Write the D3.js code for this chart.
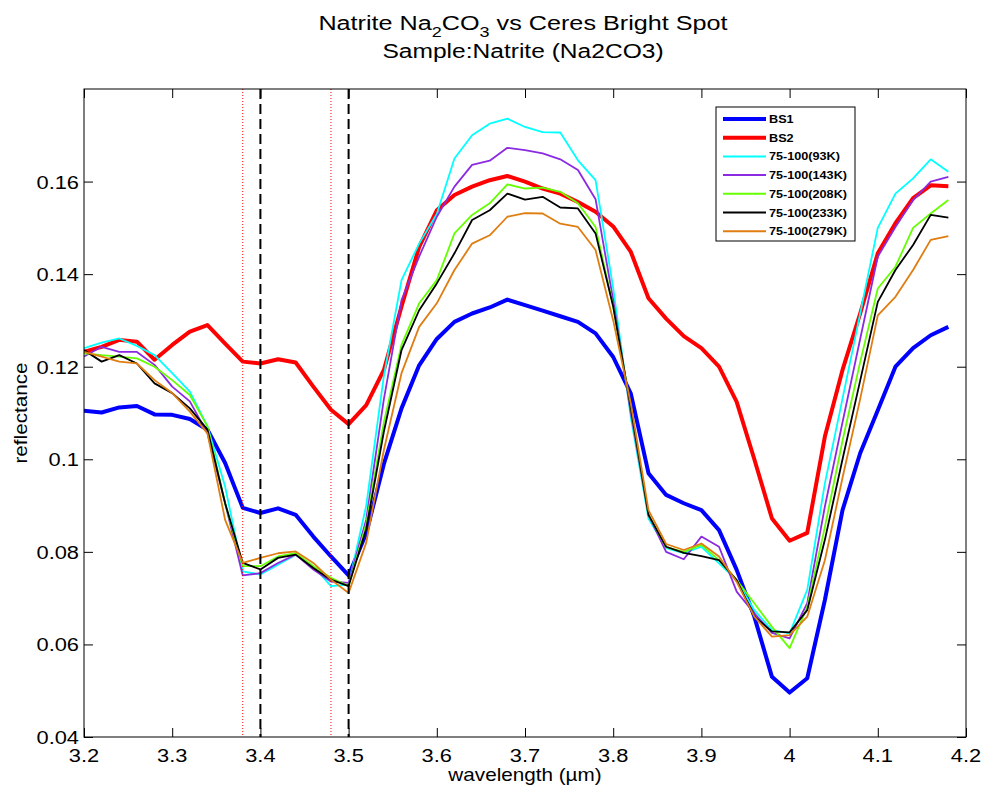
<!DOCTYPE html>
<html><head><meta charset="utf-8">
<script src="https://cdn.jsdelivr.net/npm/d3@7/dist/d3.min.js"></script>
<style>body{margin:0;background:#fff}svg{display:block}text{font-family:"Liberation Sans",Arial,sans-serif;fill:#000}</style>
</head><body><svg id="c" width="981" height="790"></svg>
<script>
const wavelength = [3.20,3.22,3.24,3.26,3.28,3.30,3.32,3.34,3.36,3.38,3.40,3.42,3.44,3.46,3.48,3.50,3.52,3.54,3.56,3.58,3.60,3.62,3.64,3.66,3.68,3.70,3.72,3.74,3.76,3.78,3.80,3.82,3.84,3.86,3.88,3.90,3.92,3.94,3.96,3.98,4.00,4.02,4.04,4.06,4.08,4.10,4.12,4.14,4.16,4.18];
const bs1 = [0.1105,0.1101,0.1112,0.1115,0.1097,0.1096,0.1087,0.1064,0.0992,0.0895,0.0884,0.0894,0.0880,0.0833,0.0790,0.0749,0.0840,0.0990,0.1110,0.1203,0.1260,0.1297,0.1315,0.1328,0.1345,0.1333,0.1321,0.1309,0.1297,0.1272,0.1221,0.1142,0.0970,0.0923,0.0905,0.0890,0.0847,0.0761,0.0660,0.0530,0.0496,0.0527,0.0696,0.0890,0.1013,0.1106,0.1200,0.1240,0.1268,0.1286];
const bs2 = [0.1232,0.1243,0.1258,0.1254,0.1215,0.1247,0.1276,0.1290,0.1250,0.1211,0.1207,0.1216,0.1209,0.1157,0.1107,0.1076,0.1117,0.1193,0.1330,0.1459,0.1538,0.1571,0.1589,0.1603,0.1612,0.1600,0.1585,0.1574,0.1556,0.1535,0.1503,0.1448,0.1348,0.1304,0.1266,0.1240,0.1200,0.1124,0.1000,0.0872,0.0824,0.0841,0.1049,0.1193,0.1315,0.1445,0.1510,0.1564,0.1592,0.1590];
const k93 = [0.1240,0.1252,0.1261,0.1245,0.1225,0.1186,0.1146,0.1071,0.0941,0.0758,0.0751,0.0772,0.0794,0.0769,0.0726,0.0729,0.0900,0.1180,0.1387,0.1466,0.1530,0.1650,0.1700,0.1725,0.1736,0.1718,0.1707,0.1706,0.1646,0.1603,0.1370,0.1090,0.0872,0.0808,0.0797,0.0811,0.0775,0.0739,0.0674,0.0631,0.0624,0.0718,0.0948,0.1131,0.1315,0.1500,0.1574,0.1607,0.1648,0.1621];
const k143 = [0.1222,0.1243,0.1232,0.1232,0.1204,0.1157,0.1125,0.1056,0.0905,0.0749,0.0754,0.0776,0.0794,0.0762,0.0736,0.0733,0.0870,0.1130,0.1344,0.1438,0.1524,0.1589,0.1636,0.1645,0.1673,0.1668,0.1661,0.1648,0.1625,0.1562,0.1344,0.1100,0.0880,0.0800,0.0784,0.0833,0.0811,0.0714,0.0667,0.0625,0.0613,0.0689,0.0898,0.1080,0.1260,0.1438,0.1502,0.1560,0.1600,0.1610];
const k208 = [0.1229,0.1225,0.1222,0.1218,0.1200,0.1171,0.1139,0.1071,0.0905,0.0769,0.0769,0.0790,0.0797,0.0769,0.0744,0.0726,0.0860,0.1080,0.1247,0.1337,0.1387,0.1488,0.1528,0.1553,0.1594,0.1585,0.1587,0.1578,0.1553,0.1502,0.1330,0.1110,0.0880,0.0810,0.0800,0.0815,0.0782,0.0739,0.0689,0.0638,0.0592,0.0681,0.0854,0.1040,0.1210,0.1369,0.1416,0.1500,0.1531,0.1560];
const k233 = [0.1236,0.1211,0.1225,0.1207,0.1164,0.1143,0.1110,0.1064,0.0905,0.0776,0.0762,0.0787,0.0794,0.0765,0.0740,0.0726,0.0850,0.1060,0.1236,0.1322,0.1380,0.1445,0.1517,0.1538,0.1574,0.1561,0.1567,0.1544,0.1542,0.1488,0.1330,0.1110,0.0880,0.0811,0.0798,0.0791,0.0782,0.0739,0.0660,0.0628,0.0626,0.0674,0.0826,0.1000,0.1170,0.1340,0.1409,0.1463,0.1528,0.1522];
const k279 = [0.1232,0.1222,0.1211,0.1207,0.1171,0.1143,0.1103,0.1056,0.0869,0.0776,0.0787,0.0797,0.0801,0.0776,0.0740,0.0711,0.0820,0.1020,0.1186,0.1286,0.1337,0.1409,0.1466,0.1484,0.1524,0.1532,0.1531,0.1509,0.1502,0.1452,0.1300,0.1120,0.0890,0.0817,0.0804,0.0818,0.0790,0.0735,0.0660,0.0617,0.0620,0.0660,0.0782,0.0960,0.1130,0.1311,0.1351,0.1409,0.1474,0.1482];
const seriesNames = ["BS1","BS2","75-100(93K)","75-100(143K)","75-100(208K)","75-100(233K)","75-100(279K)"];
const seriesValues = [bs1,bs2,k93,k143,k208,k233,k279];
const seriesColors = ["#0000ff","#ff0000","#00ffff","#8a2be2","#66ff00","#000000","#e07d10"];
const xTicks = [3.2,3.3,3.4,3.5,3.6,3.7,3.8,3.9,4.0,4.1,4.2];
const xTickLabels = ["3.2","3.3","3.4","3.5","3.6","3.7","3.8","3.9","4","4.1","4.2"];
const yTicks = [0.04,0.06,0.08,0.10,0.12,0.14,0.16];
const yTickLabels = ["0.04","0.06","0.08","0.1","0.12","0.14","0.16"];
const dottedLines = [3.38,3.48];
const dashedLines = [3.40,3.50];

const SX = 1.15;
const svg = d3.select("#c");
const L=84,R=966,T=89,B=737;
const x = d3.scaleLinear().domain([3.2,4.2]).range([L,R]);
const y = d3.scaleLinear().domain([0.04,0.18]).range([B,T]);

function txt(g,xx,yy,s,size,anchor,weight,sx){
  return g.append("text").attr("transform",`translate(${xx},${yy}) scale(${sx||SX},1)`)
    .attr("text-anchor",anchor||"start").style("font-size",size+"px")
    .style("font-weight",weight||"normal").text(s);
}

svg.append("defs").append("clipPath").attr("id","pc").append("rect")
  .attr("x",L).attr("y",T).attr("width",R-L).attr("height",B-T);

const plot = svg.append("g").attr("clip-path","url(#pc)");
const line = d3.line().x((d,i)=>x(wavelength[i])).y(d=>y(d));
seriesValues.forEach((vals,k)=>{
  plot.append("path").attr("d",line(vals)).attr("fill","none")
    .attr("stroke",seriesColors[k]).attr("stroke-width",k<2?4:1.8)
    .attr("stroke-linejoin","round");
});
dottedLines.forEach(w=>plot.append("line").attr("x1",x(w)).attr("x2",x(w)).attr("y1",T).attr("y2",B)
  .attr("stroke","#ff0000").attr("stroke-width",1).attr("stroke-dasharray","1,2"));
dashedLines.forEach(w=>plot.append("line").attr("x1",x(w)).attr("x2",x(w)).attr("y1",T).attr("y2",B)
  .attr("stroke","#000").attr("stroke-width",2).attr("stroke-dasharray","10,5"));

const ax = svg.append("g");
ax.append("g").attr("transform",`translate(0,${B})`)
  .call(d3.axisBottom(x).tickValues(xTicks).tickSize(-9).tickFormat(()=>""));
ax.append("g").attr("transform",`translate(0,${T})`)
  .call(d3.axisTop(x).tickValues(xTicks).tickSize(-9).tickFormat(()=>""));
ax.append("g").attr("transform",`translate(${L},0)`)
  .call(d3.axisLeft(y).tickValues(yTicks).tickSize(-9).tickFormat(()=>""));
ax.append("g").attr("transform",`translate(${R},0)`)
  .call(d3.axisRight(y).tickValues(yTicks).tickSize(-9).tickFormat(()=>""));
ax.selectAll(".domain").remove();
ax.selectAll(".tick line").attr("stroke","#000").attr("stroke-width",1);
ax.append("rect").attr("x",L).attr("y",T).attr("width",R-L).attr("height",B-T)
  .attr("fill","none").attr("stroke","#000").attr("stroke-width",1);

xTicks.forEach((t,i)=>txt(svg,x(t),762,xTickLabels[i],19,"middle"));
yTicks.forEach((t,i)=>txt(svg,79,y(t)+7,yTickLabels[i],19,"end"));

txt(svg,525,781,"wavelength (\u00b5m)",18,"middle");
svg.append("text").attr("transform",`translate(27,413) rotate(-90) scale(${SX},1)`)
  .attr("text-anchor","middle").style("font-size","18px").text("reflectance");

// title
const t1 = svg.append("text").attr("transform",`translate(523,30) scale(1.2,1)`)
  .attr("text-anchor","middle").style("font-size","21px");
t1.append("tspan").text("Natrite Na");
t1.append("tspan").attr("dy",7).style("font-size","15px").text("2");
t1.append("tspan").attr("dy",-7).text("CO");
t1.append("tspan").attr("dy",7).style("font-size","15px").text("3");
t1.append("tspan").attr("dy",-7).text(" vs Ceres Bright Spot");
txt(svg,523,58,"Sample:Natrite (Na2CO3)",21,"middle","normal",1.17);

const lg = svg.append("g");
lg.append("rect").attr("x",716).attr("y",107).attr("width",139).attr("height",134)
  .attr("fill","#fff").attr("stroke","#000").attr("stroke-width",1);
seriesNames.forEach((n,k)=>{
  const yy = 119 + k*18.7;
  lg.append("line").attr("x1",723).attr("x2",766).attr("y1",yy).attr("y2",yy)
    .attr("stroke",seriesColors[k]).attr("stroke-width",k<2?4:2);
  txt(lg,769,yy+4,n,11,"start","bold");
});
</script></body></html>
